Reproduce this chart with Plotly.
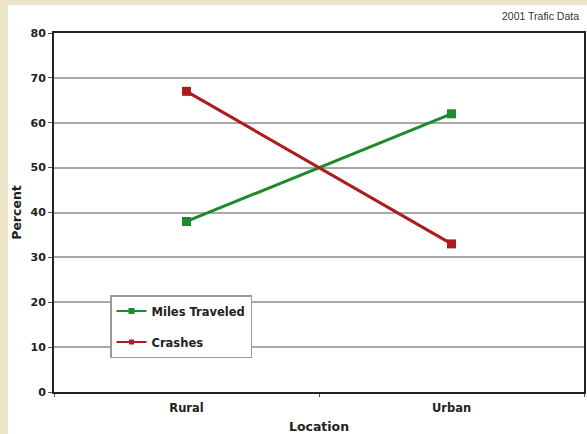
import plotly.graph_objects as go

# Share of travel vs. share of crashes by location, 2001
locations = ["Rural", "Urban"]
miles_traveled = [38, 62]
crashes = [67, 33]
y_ticks = [0, 10, 20, 30, 40, 50, 60, 70, 80]

GREEN = "#1e8a2c"
RED = "#ad1c1c"
BEIGE = "#ebe4c6"
FONT = "DejaVu Sans, Verdana, sans-serif"
TITLE_FONT = "Arial, Liberation Sans, sans-serif"
INK = "#222"

fig = go.Figure()
series = [("Miles Traveled", miles_traveled, GREEN, 6), ("Crashes", crashes, RED, 5)]
for i, (name, values, color, key_size) in enumerate(series):
    # plotted series
    fig.add_trace(go.Scatter(
        x=locations, y=values, name=name, mode="lines+markers",
        line=dict(color=color, width=3),
        marker=dict(symbol="square", size=9, color=color),
        showlegend=False, legendgroup=f"g{i}",
    ))
    # smaller legend key for the same series
    fig.add_trace(go.Scatter(
        x=[None], y=[None], name=name, mode="lines+markers",
        line=dict(color=color, width=2),
        marker=dict(symbol="square", size=key_size, color=color),
        showlegend=True, legendgroup=f"g{i}",
    ))

W, H = 587, 434
L, R, T, B = 54, 3, 33, 42
pw, ph = W - L - R, H - T - B

def px_x(p):
    return (p - L) / pw

def px_y(p):
    return (H - B - p) / ph

# white card over the beige page
fig.add_shape(type="rect", xref="paper", yref="paper",
              x0=px_x(8), x1=px_x(W + 5), y0=px_y(5), y1=px_y(H + 5),
              fillcolor="white", line=dict(width=0), layer="below")

fig.update_layout(
    width=W, height=H,
    margin=dict(l=L, r=R, t=T, b=B, autoexpand=False),
    paper_bgcolor=BEIGE, plot_bgcolor="white",
    font=dict(family=FONT, size=11, color=INK),
    showlegend=True,
    legend=dict(
        x=px_x(110), y=px_y(295), xanchor="left", yanchor="top",
        bgcolor="white", bordercolor="#9a9a9a", borderwidth=1.5,
        font=dict(family=FONT, size=11.5, color=INK, weight="bold"),
        traceorder="grouped", tracegroupgap=12,
        itemwidth=30,
    ),
    annotations=[dict(
        text="2001 Trafic Data", xref="paper", yref="paper",
        x=px_x(581), y=px_y(16), xanchor="right", yanchor="middle",
        showarrow=False, font=dict(family=TITLE_FONT, size=10.5, color="#333"),
    )],
)

fig.update_xaxes(
    type="category", range=[-0.5, 1.5], automargin=False,
    showline=True, linecolor=INK, linewidth=2, mirror=True,
    showgrid=False, ticks="outside", ticklen=3, tickcolor="#555",
    tickson="boundaries", ticklabelstandoff=4,
    tickfont=dict(family=FONT, size=11.5, color=INK, weight="bold"),
    title=dict(text="Location", standoff=9,
               font=dict(family=FONT, size=12.5, color=INK, weight="bold")),
)
fig.update_yaxes(
    range=[0, 80], tickvals=y_ticks, automargin=False,
    showline=True, linecolor=INK, linewidth=2, mirror=True,
    showgrid=True, gridcolor="#a8a8a8", gridwidth=2,
    ticks="outside", ticklen=4, tickcolor="#555",
    tickfont=dict(family=FONT, size=11, color=INK, weight="bold"),
    title=dict(text="Percent", standoff=6,
               font=dict(family=FONT, size=12.5, color=INK, weight="bold")),
    zeroline=False,
)

fig.write_html("out.html")
